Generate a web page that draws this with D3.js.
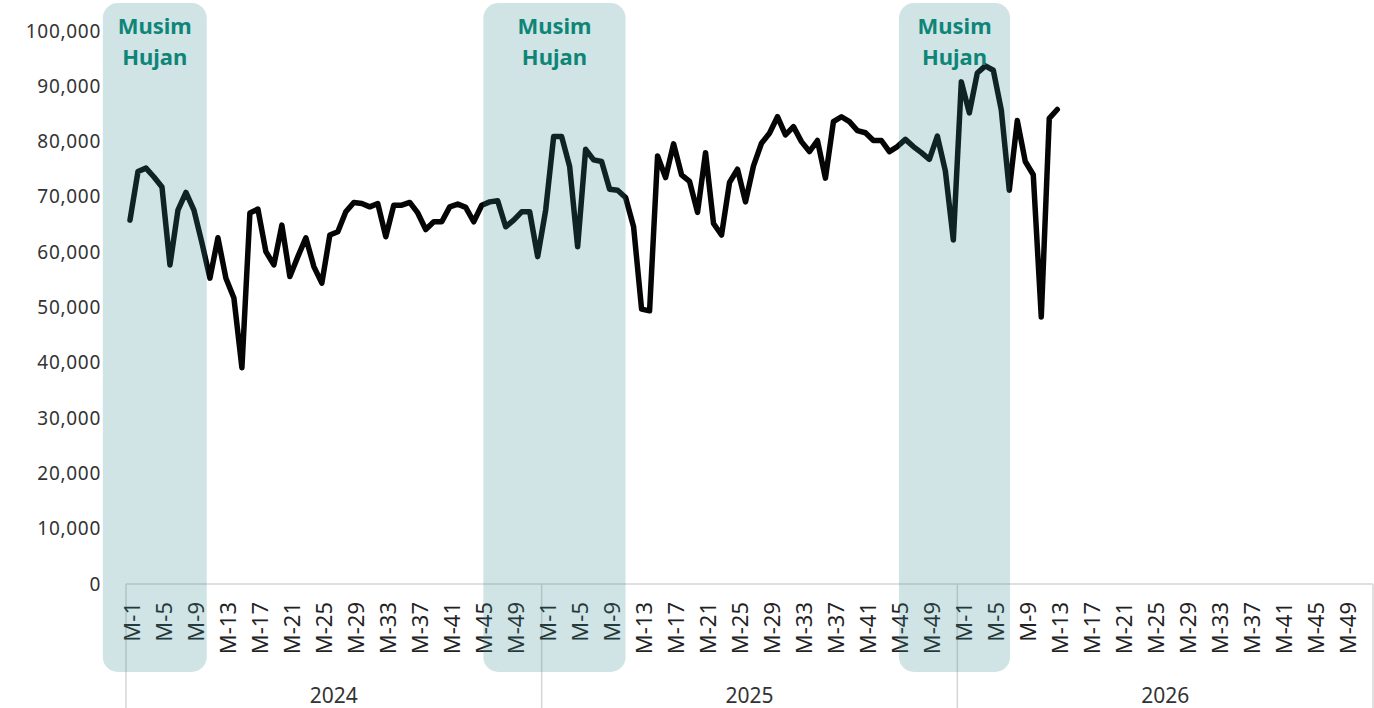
<!DOCTYPE html>
<html>
<head>
<meta charset="utf-8">
<script src="https://cdn.jsdelivr.net/npm/d3@7"></script>
<style>
  html, body { margin: 0; padding: 0; background: #ffffff; }
  svg { display: block; font-family: "Noto Sans", "Open Sans", sans-serif; }
</style>
</head>
<body>
<svg id="chart" width="1374" height="708"></svg>
<script>
// Weekly values per year (weeks M-1 .. M-52)
const years = ["2024", "2025", "2026"];
const weeksPerYear = 52;
const values2024 = [
  65800, 74600, 75200, 73600, 71800, 57700, 67600, 70800, 67600, 61700,
  55300, 62600, 55300, 51700, 39100, 67100, 67800, 60100, 57700, 64900,
  55600, 59200, 62600, 57400, 54400, 63100, 63700, 67300, 69000, 68800,
  68200, 68800, 62800, 68500, 68500, 69000, 67100, 64100, 65500, 65500,
  68200, 68700, 68100, 65500, 68500, 69100, 69300, 64600, 65800, 67300,
  67300, 59200
];
const values2025 = [
  67600, 80900, 80900, 75500, 61000, 78600, 76700, 76400, 71400, 71200,
  69900, 64600, 49700, 49400, 77400, 73500, 79600, 74000, 72800, 67200,
  78000, 65200, 63100, 72600, 75000, 69100, 75600, 79700, 81500, 84500,
  81200, 82700, 80000, 78200, 80200, 73400, 83600, 84500, 83600, 82000,
  81600, 80200, 80200, 78200, 79100, 80400, 79100, 78000, 76800, 81000,
  74700, 62200
];
const values2026 = [
  90800, 85200, 92400, 93700, 92900, 85700, 71200, 83800, 76400, 74000,
  48300, 84200, 85800
];
const yTicks = [0, 10000, 20000, 30000, 40000, 50000, 60000, 70000, 80000, 90000, 100000];
const labelEvery = 4; // M-1, M-5, M-9, ...

// Rainy-season spans, in weeks counted from the first week of 2024
const seasonLabel = ["Musim", "Hujan"];
const seasonFrom = [-2.9, 44.7, 96.7];
const seasonTo = [10.1, 62.5, 110.6];

// Layout
const plot = { left: 126, right: 1373, top: 31, bottom: 584 };
const svg = d3.select("#chart");

const totalWeeks = years.length * weeksPerYear;
const x = d3.scaleLinear().domain([0, totalWeeks]).range([plot.left, plot.right]);
const y = d3.scaleLinear().domain([0, 100000]).range([plot.bottom, plot.top]);

const series = [values2024, values2025, values2026];
const points = [];
series.forEach((vals, yi) => {
  vals.forEach((v, wi) => points.push({ idx: yi * weeksPerYear + wi, value: v }));
});

// Axis frame: baseline and year separators
const frame = svg.append("g").attr("stroke", "#d6d6d6").attr("stroke-width", 1.5);
frame.append("line")
  .attr("x1", x(0)).attr("x2", x(totalWeeks))
  .attr("y1", plot.bottom).attr("y2", plot.bottom);
d3.range(years.length + 1).forEach(i => {
  frame.append("line")
    .attr("x1", x(i * weeksPerYear)).attr("x2", x(i * weeksPerYear))
    .attr("y1", plot.bottom).attr("y2", 708);
});

// Y axis labels (no axis line, no ticks)
const yAxis = d3.axisLeft(y).tickValues(yTicks).tickFormat(d3.format(",")).tickSize(0).tickPadding(0);
const yG = svg.append("g").attr("transform", `translate(101,0)`).call(yAxis);
yG.select(".domain").remove();
yG.selectAll("text")
  .attr("font-size", 19)
  .attr("letter-spacing", "0.7px")
  .attr("fill", "#333333")
  .attr("font-family", "'Noto Sans', sans-serif");

// X axis week labels, rotated
const weekIdx = [];
years.forEach((yr, yi) => {
  for (let w = 0; w < weeksPerYear; w += labelEvery) weekIdx.push({ idx: yi * weeksPerYear + w, label: "M-" + (w + 1) });
});
svg.append("g").selectAll("text")
  .data(weekIdx)
  .join("text")
  .attr("transform", d => `translate(${x(d.idx + 0.5) + 1.5},602) rotate(-90)`)
  .attr("text-anchor", "end")
  .attr("dominant-baseline", "central")
  .attr("font-size", 22)
  .attr("fill", "#222222")
  .text(d => d.label);

// Year labels
svg.append("g").selectAll("text")
  .data(years)
  .join("text")
  .attr("x", (d, i) => x(i * weeksPerYear + weeksPerYear / 2))
  .attr("y", 703)
  .attr("text-anchor", "middle")
  .attr("font-size", 21)
  .attr("fill", "#333333")
  .text(d => d);

// Weekly line
const line = d3.line()
  .x(d => x(d.idx + 0.5))
  .y(d => y(d.value));
svg.append("path")
  .datum(points)
  .attr("d", line)
  .attr("fill", "none")
  .attr("stroke", "#050505")
  .attr("stroke-width", 5.5)
  .attr("stroke-linejoin", "round")
  .attr("stroke-linecap", "round");

// Rainy-season bands, translucent over the line
const seasons = seasonFrom.map((f, i) => ({ from: f, to: seasonTo[i] }));
const bandTop = 3, bandBottom = 672;
svg.append("g").selectAll("rect")
  .data(seasons)
  .join("rect")
  .attr("x", d => x(d.from))
  .attr("y", bandTop)
  .attr("width", d => x(d.to) - x(d.from))
  .attr("height", bandBottom - bandTop)
  .attr("rx", 15)
  .attr("fill", "rgb(52,139,148)")
  .attr("fill-opacity", 0.23);

const lbl = svg.append("g").selectAll("text")
  .data(seasons)
  .join("text")
  .attr("text-anchor", "middle")
  .attr("font-size", 22)
  .attr("font-weight", 700)
  .attr("fill", "#0f8577");
lbl.each(function (d) {
  const t = d3.select(this);
  const cx = (x(d.from) + x(d.to)) / 2;
  seasonLabel.forEach((s, k) => {
    t.append("tspan").attr("x", cx).attr("y", bandTop + 31 + k * 31).text(s);
  });
});
</script>
</body>
</html>
